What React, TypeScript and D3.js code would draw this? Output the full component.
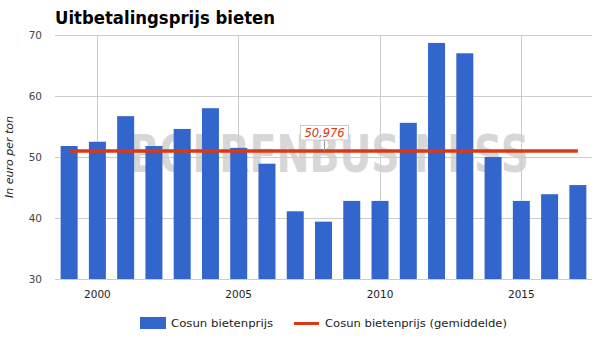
import React from "react";
import * as d3 from "d3";

const years = [1999, 2000, 2001, 2002, 2003, 2004, 2005, 2006, 2007, 2008, 2009, 2010, 2011, 2012, 2013, 2014, 2015, 2016, 2017];
const prices = [51.8, 52.5, 56.7, 51.8, 54.6, 58.0, 51.5, 48.9, 41.1, 39.4, 42.8, 42.8, 55.6, 68.7, 67.0, 50.0, 42.8, 43.9, 45.4];
const averagePrice = 50.976;
const averageLabel = "50,976";
const annotationYear = 2008;
const yTicks = [30, 40, 50, 60, 70];
const xTicks = [2000, 2005, 2010, 2015];
const title = "Uitbetalingsprijs bieten";
const yTitle = "In euro per ton";
const seriesNames = ["Cosun bietenprijs", "Cosun bietenprijs (gemiddelde)"];
const watermark = "BOERENBUSINESS";

const W = 604;
const H = 337;
const FONT = "'DejaVu Sans', Verdana, sans-serif";
const BLUE = "#3366cc";
const RED = "#dc3912";

export default function App() {
  const x = d3.scaleLinear().domain([1998.5, 2017.5]).range([55, 592]);
  const y = d3.scaleLinear().domain([30, 70]).range([279, 35]);
  const barW = 17;
  const line = d3
    .line<number>()
    .x((d) => x(d))
    .y(() => y(averagePrice));
  const ax = x(annotationYear) + 1;
  const ay = y(averagePrice);

  return (
    <div style={{ position: "absolute", left: 0, top: 0 }}>
      <svg width={W} height={H} style={{ display: "block", background: "#fff" }}>
        <text x={55} y={24} fontFamily={FONT} fontWeight="bold" fontSize={17} fill="#000" textLength={220} lengthAdjust="spacingAndGlyphs">
          {title}
        </text>

        {/* watermark */}
        <text x={129} y={172} fontFamily={FONT} fontWeight="bold" fontSize={52} fill="#d7d7d7" textLength={400} lengthAdjust="spacingAndGlyphs">
          {watermark}
        </text>

        {/* gridlines */}
        {yTicks.map((t) => (
          <line key={"gy" + t} x1={55} x2={592} y1={y(t)} y2={y(t)} stroke="#cccccc" strokeWidth={1} shapeRendering="crispEdges" />
        ))}
        {xTicks.map((t) => (
          <line key={"gx" + t} x1={x(t)} x2={x(t)} y1={y(70)} y2={y(30)} stroke="#cccccc" strokeWidth={1} shapeRendering="crispEdges" />
        ))}

        {/* y tick labels */}
        {yTicks.map((t) => (
          <text key={"ty" + t} x={42} y={y(t)} dy="0.36em" textAnchor="end" fontFamily={FONT} fontSize={10.5} fill="#444">
            {t}
          </text>
        ))}
        {/* x tick labels */}
        {xTicks.map((t) => (
          <text key={"tx" + t} x={x(t)} y={298} textAnchor="middle" fontFamily={FONT} fontSize={10.5} fill="#222">
            {t}
          </text>
        ))}

        <text transform={`translate(13,157) rotate(-90)`} textAnchor="middle" fontFamily={FONT} fontStyle="italic" fontSize={11} fill="#222">
          {yTitle}
        </text>

        {/* bars */}
        {years.map((yr, i) => (
          <rect key={yr} x={x(yr) - barW / 2} y={y(prices[i])} width={barW} height={y(30) - y(prices[i])} fill={BLUE} />
        ))}

        {/* average line */}
        <path d={line(years) || ""} stroke={RED} strokeWidth={3.5} fill="none" />

        {/* annotation */}
        <line x1={ax} x2={ax} y1={140} y2={ay} stroke="#999" strokeWidth={1} />
        <rect x={ax - 24} y={125.5} width={48} height={14.5} fill="#fff" stroke="#ccc" strokeWidth={1} />
        <text x={ax} y={137} textAnchor="middle" fontFamily={FONT} fontStyle="italic" fontSize={11.5} fill={RED}>
          {averageLabel}
        </text>

        {/* legend */}
        <rect x={140} y={317} width={26} height={12} fill={BLUE} />
        <text x={171} y={327} fontFamily={FONT} fontSize={11} fill="#222" textLength={102} lengthAdjust="spacingAndGlyphs">
          {seriesNames[0]}
        </text>
        <line x1={294} x2={319} y1={323.5} y2={323.5} stroke={RED} strokeWidth={3} />
        <text x={325} y={327} fontFamily={FONT} fontSize={11} fill="#222" textLength={182} lengthAdjust="spacingAndGlyphs">
          {seriesNames[1]}
        </text>
      </svg>
    </div>
  );
}
